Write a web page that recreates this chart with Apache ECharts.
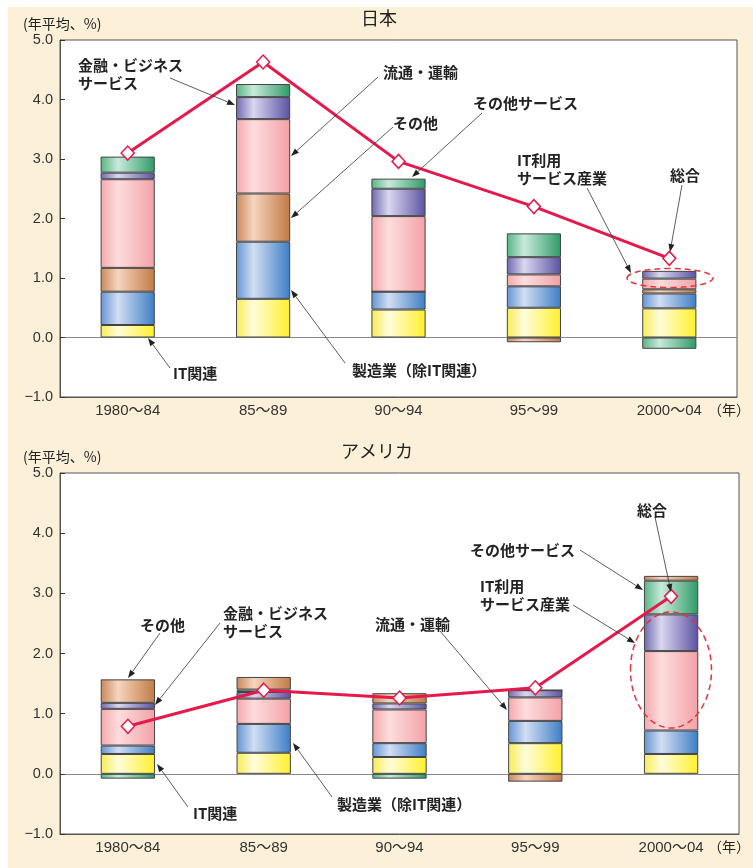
<!DOCTYPE html>
<html><head><meta charset="utf-8">
<script src="https://cdn.jsdelivr.net/npm/echarts@6/dist/echarts.min.js"></script>
<style>
html,body{margin:0;padding:0;background:#fff;}
#bg{position:absolute;left:8px;top:7px;width:745px;height:861px;background:#fdf0d8;}
#main{position:absolute;left:0;top:0;width:753px;height:868px;}
</style></head><body>
<div id="bg"></div><div id="main"></div>
<script>
// ---- data ----
const categories = ['1980〜84', '85〜89', '90〜94', '95〜99', '2000〜04'];
const yMin = -1, yMax = 5, yStep = 1;

// Japan
const jpIT     = [0.21, 0.65, 0.47, 0.50, 0.49];
const jpMfg    = [0.56, 0.96, 0.30, 0.36, 0.25];
const jpOther  = [0.40, 0.81, 0.00, -0.08, 0.07];
const jpDist   = [1.49, 1.25, 1.27, 0.20, 0.18];
const jpFin    = [0.11, 0.37, 0.46, 0.29, 0.13];
const jpOthSvc = [0.27, 0.22, 0.17, 0.40, -0.19];
const jpTotal  = [3.10, 4.63, 2.96, 2.20, 1.33];

// USA
const usIT     = [0.33, 0.35, 0.28, 0.51, 0.33];
const usMfg    = [0.14, 0.48, 0.23, 0.37, 0.39];
const usDist   = [0.61, 0.42, 0.56, 0.39, 1.32];
const usFin    = [0.10, 0.11, 0.10, 0.12, 0.61];
const usOthSvc = [-0.08, 0.04, -0.08, 0.00, 0.56];
const usOther  = [0.39, 0.21, 0.17, -0.13, 0.08];
const usTotal  = [0.79, 1.39, 1.26, 1.43, 2.95];

// ---- styles ----
const FONT = '"Noto Sans CJK JP","Noto Sans",sans-serif';
const NUMFONT = '"Liberation Sans","Noto Sans CJK JP",sans-serif';
function grad(a, b, c) {
  return new echarts.graphic.LinearGradient(0, 0, 1, 0, [
    {offset: 0, color: a}, {offset: 0.32, color: b}, {offset: 1, color: c}]);
}
const col = {
  it:     grad('#f7ec55', '#fffcdc', '#fff02a'),
  mfg:    grad('#6394d2', '#d2def3', '#3d7ec4'),
  other:  grad('#c8885a', '#f6d5bf', '#c27a45'),
  dist:   grad('#f4a8ad', '#fddddd', '#f2a1a7'),
  fin:    grad('#6e68ae', '#dad7ef', '#5a52a2'),
  othsvc: grad('#58b383', '#c8eadb', '#2f9a68')
};
const RED = '#e6194b';

function barSeries(name, data, color, gi) {
  return {
    type: 'bar', name: name, data: data, stack: 'tot' + gi,
    xAxisIndex: gi * 2, yAxisIndex: gi, barWidth: '40%',
    itemStyle: {color: color, borderColor: '#444', borderWidth: 1},
    emphasis: {disabled: true}
  };
}
function lineSeries(data, gi) {
  return {
    type: 'line', name: '総合', data: data, xAxisIndex: gi * 2, yAxisIndex: gi, z: 5,
    symbol: 'diamond', symbolSize: [13, 14],
    itemStyle: {color: '#fff', borderColor: RED, borderWidth: 1.5},
    lineStyle: {color: RED, width: 3}, emphasis: {disabled: true}
  };
}
function xAxes(gi) {
  return [
    {type: 'category', gridIndex: gi, data: categories, position: 'bottom',
     axisLine: {onZero: false, lineStyle: {color: '#555'}},
     axisTick: {inside: true, length: 6, lineStyle: {color: '#333'}},
     axisLabel: {fontSize: 15, color: '#333', margin: 6, fontFamily: NUMFONT}},
    {type: 'category', gridIndex: gi, data: categories, position: 'bottom',
     axisLine: {onZero: true, lineStyle: {color: '#888'}},
     axisTick: {inside: true, length: 6, lineStyle: {color: '#333'}},
     axisLabel: {show: false}}
  ];
}
function yAxis(gi) {
  return {type: 'value', gridIndex: gi, min: yMin, max: yMax, interval: yStep,
    axisLine: {show: true, lineStyle: {color: '#555'}},
    axisTick: {show: true, inside: true, length: 5, lineStyle: {color: '#333'}},
    splitLine: {show: false},
    axisLabel: {fontSize: 14.5, color: '#333', margin: 7, fontFamily: NUMFONT,
      formatter: v => (v < 0 ? '−' : '') + Math.abs(v).toFixed(1)}};
}

// ---- annotations (layout) ----
function txt(t, x, y, opt) {
  return {type: 'text', z: 100, style: {text: t, x: x, y: y, fill: '#222',
    font: (opt && opt.font) || ('bold 15px ' + FONT), lineHeight: 18,
    align: (opt && opt.align) || 'left', verticalAlign: (opt && opt.va) || 'top'}};
}
function arrow(x1, y1, x2, y2) {
  const dx = x2 - x1, dy = y2 - y1, L = Math.hypot(dx, dy), ux = dx / L, uy = dy / L;
  const hl = 8, hw = 3;
  const bx = x2 - ux * hl, by = y2 - uy * hl;
  return [
    {type: 'line', z: 100, shape: {x1: x1, y1: y1, x2: bx, y2: by}, style: {stroke: '#333', lineWidth: 0.8}},
    {type: 'polygon', z: 100, shape: {points: [[x2, y2], [bx - uy * hw, by + ux * hw], [bx + uy * hw, by - ux * hw]]},
     style: {fill: '#222'}}
  ];
}
const notes = [
  ['金融・ビジネス\nサービス', 78, 56, [170, 78, 235, 105]],
  ['流通・運輸', 383, 63, [378, 77, 291, 156]],
  ['その他', 393, 114, [393, 127, 291, 218]],
  ['その他サービス', 473, 94, [482, 113, 412, 177]],
  ['IT利用\nサービス産業', 517, 151, [587, 188, 631, 273]],
  ['総合', 670, 166, [682, 185, 670, 252]],
  ['IT関連', 173, 364, [170, 368, 148, 338]],
  ['製造業（除IT関連）', 352, 361, [345, 363, 291, 290]],
  ['その他', 140, 616, [160, 633, 128, 678]],
  ['金融・ビジネス\nサービス', 223, 604, [220, 623, 155, 705]],
  ['流通・運輸', 375, 615, [440, 631, 507, 710]],
  ['その他サービス', 470, 541, [580, 550, 643, 590]],
  ['IT利用\nサービス産業', 480, 577, [573, 605, 635, 643]],
  ['総合', 637, 501, [655, 517, 671, 592]],
  ['IT関連', 193, 804, [188, 807, 157, 764]],
  ['製造業（除IT関連）', 337, 795, [332, 797, 293, 743]]
];
const graphics = [];
notes.forEach(n => {
  graphics.push(txt(n[0], n[1], n[2]));
  arrow.apply(null, n[3]).forEach(g => graphics.push(g));
});
graphics.push(txt('日本', 379, 18, {font: '18px ' + FONT, align: 'center', va: 'middle'}));
graphics.push(txt('アメリカ', 377, 451, {font: '18px ' + FONT, align: 'center', va: 'middle'}));
graphics.push(txt('(年平均、%)', 23, 24, {font: '14px ' + FONT, va: 'middle'}));
graphics.push(txt('(年平均、%)', 23, 457, {font: '14px ' + FONT, va: 'middle'}));
graphics.push(txt('（年）', 708, 410, {font: '14px ' + FONT, va: 'middle'}));
graphics.push(txt('（年）', 708, 847, {font: '14px ' + FONT, va: 'middle'}));
graphics.push({type: 'ellipse', z: 100, shape: {cx: 670, cy: 278, rx: 43, ry: 9.5},
  style: {fill: 'none', stroke: '#e8333a', lineWidth: 1.5, lineDash: [6, 4]}});
graphics.push({type: 'ellipse', z: 100, shape: {cx: 671, cy: 670, rx: 40.5, ry: 58},
  style: {fill: 'none', stroke: '#e8333a', lineWidth: 1.5, lineDash: [6, 4]}});

const chart = echarts.init(document.getElementById('main'), null, {renderer: 'canvas'});
chart.setOption({
  animation: false,
  backgroundColor: 'transparent',
  textStyle: {fontFamily: FONT},
  grid: [
    {left: 60, top: 40, width: 677, height: 357, show: true, backgroundColor: '#fff', borderColor: '#555', borderWidth: 1},
    {left: 60, top: 473, width: 679, height: 361, show: true, backgroundColor: '#fff', borderColor: '#555', borderWidth: 1}
  ],
  xAxis: xAxes(0).concat(xAxes(1)),
  yAxis: [yAxis(0), yAxis(1)],
  series: [
    barSeries('IT関連', jpIT, col.it, 0),
    barSeries('製造業（除IT関連）', jpMfg, col.mfg, 0),
    barSeries('その他', jpOther, col.other, 0),
    barSeries('流通・運輸', jpDist, col.dist, 0),
    barSeries('金融・ビジネスサービス', jpFin, col.fin, 0),
    barSeries('その他サービス', jpOthSvc, col.othsvc, 0),
    lineSeries(jpTotal, 0),
    barSeries('IT関連', usIT, col.it, 1),
    barSeries('製造業（除IT関連）', usMfg, col.mfg, 1),
    barSeries('流通・運輸', usDist, col.dist, 1),
    barSeries('金融・ビジネスサービス', usFin, col.fin, 1),
    barSeries('その他サービス', usOthSvc, col.othsvc, 1),
    barSeries('その他', usOther, col.other, 1),
    lineSeries(usTotal, 1)
  ],
  graphic: graphics
});
</script>
</body></html>
